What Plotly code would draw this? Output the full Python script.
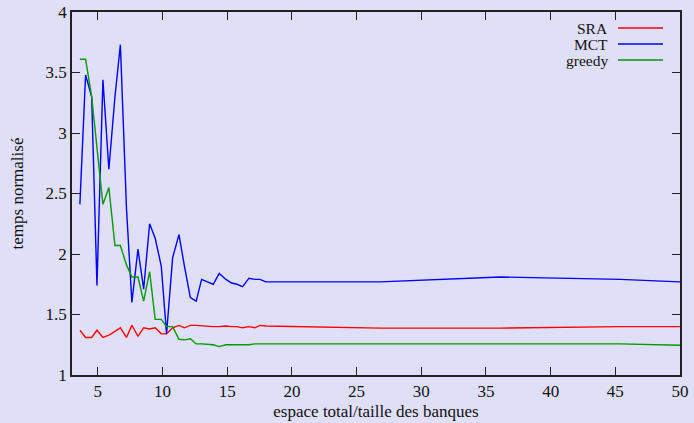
import plotly.graph_objects as go

# Ratio total space / bank size
x_ratio = [3.61, 4.05, 4.52, 4.93, 5.39, 5.85, 6.32, 6.74, 7.21, 7.63,
           8.10, 8.54, 9.00, 9.43, 9.90, 10.31, 10.78, 11.27, 11.69, 12.15,
           12.60, 13.02, 13.47, 13.92, 14.38, 14.90, 15.34, 15.75, 16.19, 16.68,
           17.14, 17.53, 17.99, 26.81, 36.09, 45.37, 50.0]

sra = [1.37, 1.31, 1.31, 1.37, 1.31, 1.33, 1.36, 1.39, 1.31, 1.41,
       1.32, 1.39, 1.38, 1.39, 1.34, 1.34, 1.39, 1.41, 1.39, 1.41,
       1.41, 1.405, 1.40, 1.40, 1.40, 1.405, 1.40, 1.40, 1.39, 1.40,
       1.39, 1.41, 1.405, 1.387, 1.387, 1.40, 1.40]

mct = [2.41, 3.48, 3.30, 1.74, 3.44, 2.70, 3.30, 3.73, 2.38, 1.60,
       2.04, 1.71, 2.25, 2.13, 1.90, 1.34, 1.97, 2.16, 1.90, 1.64,
       1.61, 1.79, 1.77, 1.75, 1.84, 1.79, 1.76, 1.75, 1.73, 1.80,
       1.79, 1.79, 1.77, 1.77, 1.81, 1.79, 1.77]

greedy = [3.61, 3.61, 3.30, 2.89, 2.41, 2.55, 2.07, 2.07, 1.91, 1.81,
          1.81, 1.61, 1.855, 1.46, 1.46, 1.40, 1.40, 1.295, 1.29, 1.30,
          1.257, 1.257, 1.255, 1.25, 1.235, 1.25, 1.25, 1.25, 1.25, 1.25,
          1.257, 1.257, 1.257, 1.26, 1.258, 1.257, 1.246]

series_names = ["SRA", "MCT", "greedy"]
series_colors = ["#ff0000", "#0000ff", "#009a00"]
x_ticks = [5, 10, 15, 20, 25, 30, 35, 40, 45, 50]
y_ticks = [1, 1.5, 2, 2.5, 3, 3.5, 4]

BG = "#dfdff7"
FONT = "Liberation Serif"
AXIS = "#222222"

W, H = 694, 423
ML, MR, MT, MB = 72, 14, 12, 48
PW, PH = W - ML - MR, H - MT - MB

fig = go.Figure()
for name, ys, col in zip(series_names, [sra, mct, greedy], series_colors):
    fig.add_trace(go.Scatter(x=x_ratio, y=ys, mode="lines", name=name,
                             line=dict(color=col, width=1.4),
                             showlegend=False))

axis_common = dict(
    showgrid=False, zeroline=False, showline=True, linecolor=AXIS,
    linewidth=1.6, mirror="allticks", ticks="inside", ticklen=8,
    tickwidth=1.3, tickcolor=AXIS, automargin=False,
    tickfont=dict(family=FONT, size=17, color="#111111"),
)

fig.update_layout(
    width=W, height=H,
    margin=dict(l=ML, r=MR, t=MT, b=MB),
    paper_bgcolor=BG, plot_bgcolor=BG,
    font=dict(family=FONT, color="#111111"),
    xaxis=dict(range=[3, 50], tickvals=x_ticks, **axis_common,
               title=dict(text="espace total/taille des banques",
                          font=dict(family=FONT, size=17), standoff=5)),
    yaxis=dict(range=[1, 4], tickvals=y_ticks, **axis_common,
               title=dict(text="temps normalisé",
                          font=dict(family=FONT, size=17), standoff=18)),
)

# Key: label on the left, line sample on the right
for i, (name, col) in enumerate(zip(series_names, series_colors)):
    ypix = 28 + 16 * i
    yp = 1 - (ypix - MT) / PH
    fig.add_annotation(xref="paper", yref="paper", x=(610 - ML) / PW, y=yp,
                       text=name, showarrow=False, xanchor="right",
                       yanchor="middle",
                       font=dict(family=FONT, size=15.5, color="#111111"))
    fig.add_shape(type="line", xref="paper", yref="paper",
                  x0=(618 - ML) / PW, x1=(663 - ML) / PW, y0=yp, y1=yp,
                  line=dict(color=col, width=1.4))

fig.write_html("out.html")
